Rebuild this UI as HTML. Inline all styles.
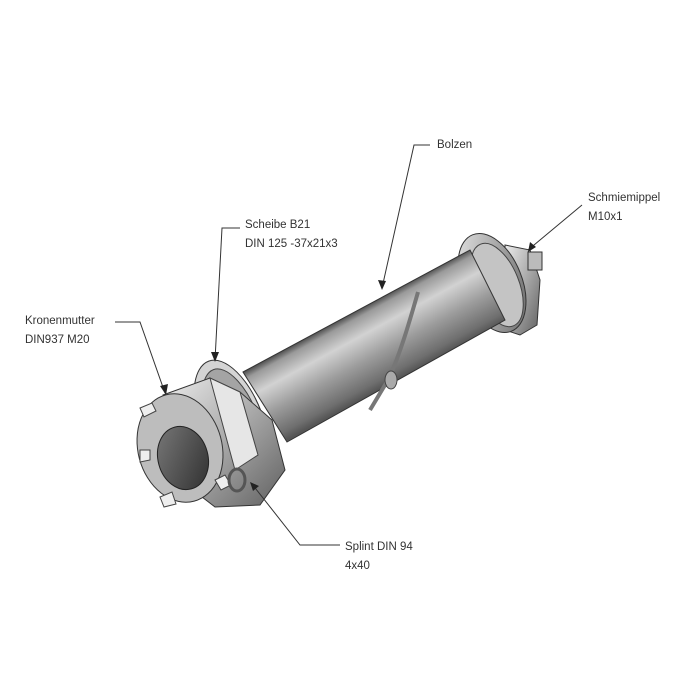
<!DOCTYPE html>
<html><head><meta charset="utf-8"><style>
html,body{margin:0;padding:0;background:#fff;}
svg{display:block}
text{font-family:"Liberation Sans",sans-serif;font-size:11.5px;fill:#333;}
</style></head><body>
<svg width="700" height="700" viewBox="0 0 700 700" xmlns="http://www.w3.org/2000/svg">
<defs>
<linearGradient id="tube" gradientUnits="userSpaceOnUse" x1="357" y1="311" x2="395" y2="381">
<stop offset="0" stop-color="#555"/><stop offset="0.08" stop-color="#9a9a9a"/><stop offset="0.3" stop-color="#d2d2d2"/><stop offset="0.6" stop-color="#9c9c9c"/><stop offset="0.9" stop-color="#6e6e6e"/><stop offset="1" stop-color="#555"/>
</linearGradient>
<linearGradient id="metal" x1="0" y1="0" x2="1" y2="1">
<stop offset="0" stop-color="#ececec"/><stop offset="0.5" stop-color="#a8a8a8"/><stop offset="1" stop-color="#606060"/>
</linearGradient>
<linearGradient id="face" x1="0" y1="0" x2="1" y2="1">
<stop offset="0" stop-color="#7a7a7a"/><stop offset="1" stop-color="#2e2e2e"/>
</linearGradient>
</defs>

<polygon points="505,245 530,250 540,280 537,325 520,335 505,330" fill="url(#metal)" stroke="#333" stroke-width="1"/>
<rect x="528" y="252" width="14" height="18" fill="#bbb" stroke="#333"/>
<ellipse cx="492" cy="283" rx="30" ry="52" transform="rotate(-22 492 283)" fill="url(#metal)" stroke="#333"/>
<ellipse cx="497" cy="285" rx="22" ry="44" transform="rotate(-22 497 285)" fill="#c4c4c4" stroke="#444"/>
<polygon points="243,372 470,250 505,320 287,442" fill="url(#tube)" stroke="#333"/>
<path d="M418,292 C410,320 400,355 388,380 L370,410" fill="none" stroke="#777" stroke-width="4"/>
<ellipse cx="391" cy="380" rx="6" ry="9" fill="#aaa" stroke="#444"/>
<ellipse cx="232" cy="425" rx="32" ry="68" transform="rotate(-20 232 425)" fill="#d4d4d4" stroke="#333"/>
<ellipse cx="234" cy="426" rx="26" ry="60" transform="rotate(-20 234 426)" fill="#a4a4a4" stroke="#444"/>
<polygon points="163,395 210,378 240,392 272,420 285,470 260,505 215,507 180,480" fill="url(#metal)" stroke="#333"/>
<polygon points="210,378 240,392 258,455 235,470" fill="#e6e6e6" stroke="#444"/>
<ellipse cx="180" cy="448" rx="42" ry="55" transform="rotate(-15 180 448)" fill="#bdbdbd" stroke="#333"/>
<path d="M140,408 l12,-5 l4,8 l-12,6z M140,450 l10,0 l0,10 l-10,2z M160,497 l12,-5 l4,12 l-12,3z M215,480 l10,-5 l6,10 l-10,5z" fill="#eee" stroke="#444"/>
<ellipse cx="183" cy="458" rx="25" ry="32" transform="rotate(-15 183 458)" fill="url(#face)" stroke="#222"/>
<ellipse cx="237" cy="480" rx="8" ry="11" fill="none" stroke="#555" stroke-width="3"/>

<g stroke="#333" stroke-width="1" fill="none">
<path d="M430,145 L414,145 L382,288"/>
<path d="M582,205 L528,250"/>
<path d="M240,228 L222,228 L215,360"/>
<path d="M115,322 L140,322 L165,393"/>
<path d="M340,545 L300,545 L252,484"/>
</g>
<g fill="#222">
<polygon points="382,290 378,280 386,281"/>
<polygon points="528,252 530,242 536,247"/>
<polygon points="215,362 211,352 219,352"/>
<polygon points="166,395 160,386 168,384"/>
<polygon points="250,482 259,486 253,491"/>
</g>

<text x="437" y="148">Bolzen</text>
<text x="588" y="201">Schmiemippel</text>
<text x="588" y="220">M10x1</text>
<text x="245" y="228">Scheibe B21</text>
<text x="245" y="247">DIN 125 -37x21x3</text>
<text x="25" y="324">Kronenmutter</text>
<text x="25" y="343">DIN937 M20</text>
<text x="345" y="550">Splint DIN 94</text>
<text x="345" y="569">4x40</text>
</svg>
</body></html>
